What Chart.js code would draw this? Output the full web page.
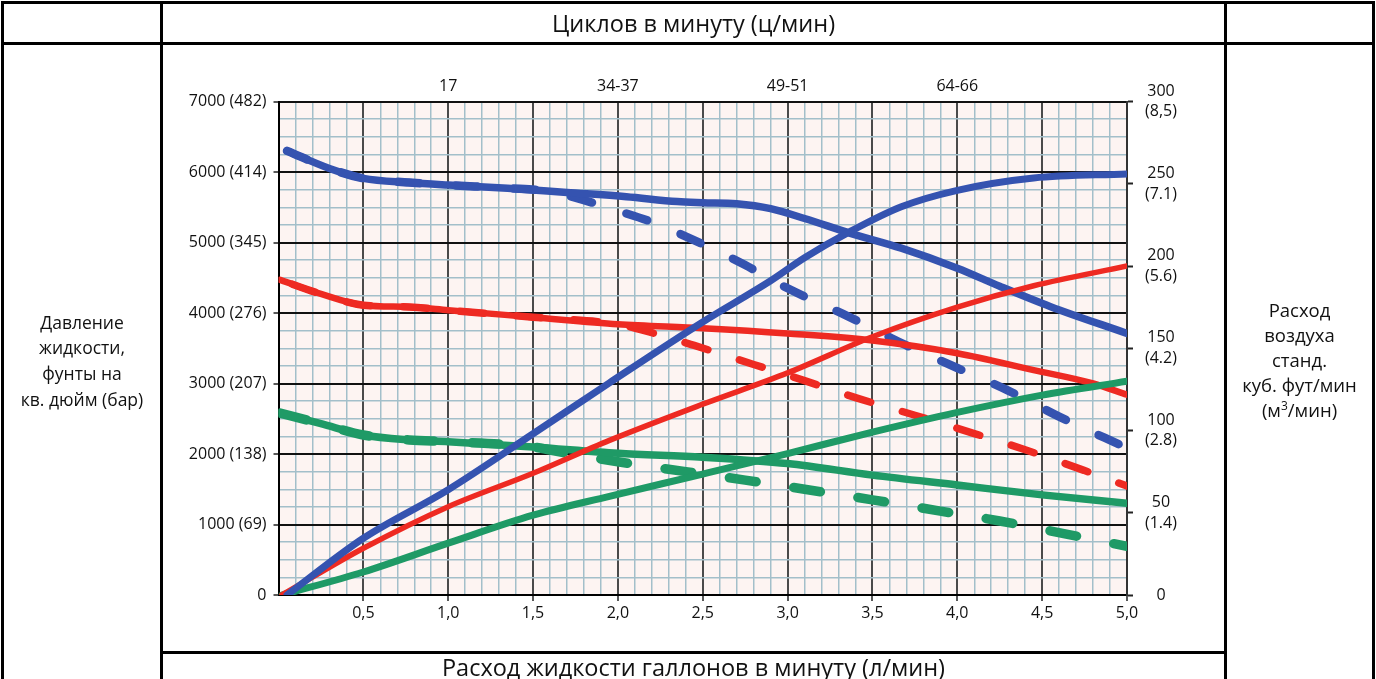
<!DOCTYPE html>
<html><head><meta charset="utf-8">
<script src="https://cdn.jsdelivr.net/npm/chart.js@4.4.1/dist/chart.umd.min.js"></script>
<style>
html,body{margin:0;padding:0;background:#fff;}
#wrap{position:relative;width:1376px;height:679px;overflow:hidden;font-family:'Open Sans',sans-serif;color:#111;}
#wrap canvas{position:absolute;left:0;top:0;}
.ln{position:absolute;background:#000;}
.txt{position:absolute;display:flex;align-items:center;justify-content:center;text-align:center;white-space:nowrap;}
sup{font-size:12px;line-height:0;vertical-align:7px;}
</style></head><body>
<div id="wrap">
 <canvas id="c" width="1376" height="679"></canvas>
 <div class="ln" style="left:1px;top:1px;width:1374px;height:3px"></div>
 <div class="ln" style="left:1px;top:42px;width:1374px;height:3px"></div>
 <div class="ln" style="left:160px;top:651px;width:1067px;height:3px"></div>
 <div class="ln" style="left:1px;top:1px;width:3px;height:678px"></div>
 <div class="ln" style="left:1372px;top:1px;width:3px;height:678px"></div>
 <div class="ln" style="left:160px;top:1px;width:3px;height:678px"></div>
 <div class="ln" style="left:1224px;top:1px;width:3px;height:678px"></div>
 <div class="txt" style="left:163px;top:4px;width:1061px;height:38px;font-size:23.5px;"><div>Циклов в минуту (ц/мин)</div></div>
 <div class="txt" style="left:163px;top:654px;width:1061px;height:25px;font-size:23.5px;"><div>Расход жидкости галлонов в минуту (л/мин)</div></div>
 <div class="txt" style="left:4px;top:300px;width:156px;height:122px;font-size:17.5px;"><div style="line-height:25.7px">Давление<br>жидкости,<br>фунты на<br>кв. дюйм (бар)</div></div>
 <div class="txt" style="left:1227px;top:290px;width:145px;height:138px;font-size:18.5px;"><div style="line-height:25px">Расход<br>воздуха<br>станд.<br>куб. фут/мин<br>(м<sup>3</sup>/мин)</div></div>
</div>
<script>
// ---- Data ----
// Fluid pressure, psi (left axis) vs fluid flow, gpm
const bluePsiX = [0.05, 0.3, 0.5, 0.77, 1.0, 1.35, 1.7, 2.05, 2.35, 2.5, 2.7, 2.9, 3.1, 3.37, 3.67, 4.0, 4.25, 4.55, 5.0];
const bluePsi  = [6300, 6050, 5910, 5850, 5815, 5770, 5710, 5650, 5580, 5565, 5550, 5480, 5340, 5130, 4920, 4635, 4380, 4090, 3710];
const bluePsiDashX = [0.05, 0.3, 0.5, 0.77, 1.0, 1.35, 1.6, 1.8, 2.0, 2.2, 2.5, 2.75, 3.0, 3.35, 3.7, 4.0, 4.3, 4.6, 5.0];
const bluePsiDash  = [6300, 6050, 5910, 5850, 5815, 5770, 5725, 5600, 5450, 5290, 4975, 4680, 4350, 3960, 3540, 3220, 2900, 2530, 2085];

const redPsiX = [0.01, 0.25, 0.5, 0.77, 1.0, 1.5, 2.0, 2.5, 3.0, 3.5, 4.0, 4.45, 4.8, 5.0];
const redPsi  = [4470, 4270, 4110, 4085, 4040, 3940, 3840, 3785, 3710, 3610, 3430, 3190, 3000, 2840];
const redPsiDashX = [0.01, 0.25, 0.5, 0.77, 1.0, 1.5, 2.0, 2.2, 2.45, 2.8, 3.1, 3.4, 3.75, 4.1, 4.4, 4.75, 5.0];
const redPsiDash  = [4470, 4270, 4110, 4085, 4040, 3940, 3840, 3720, 3540, 3270, 3040, 2800, 2550, 2290, 2060, 1765, 1545];

const greenPsiX = [0.01, 0.25, 0.5, 0.77, 1.0, 1.5, 2.0, 2.5, 3.0, 3.5, 4.0, 4.5, 5.0];
const greenPsi  = [2580, 2430, 2270, 2200, 2175, 2100, 2010, 1955, 1865, 1700, 1560, 1420, 1300];
const greenPsiDashX = [0.01, 0.25, 0.5, 0.77, 1.0, 1.5, 1.7, 2.0, 2.4, 2.75, 3.1, 3.5, 3.9, 4.25, 4.65, 5.0];
const greenPsiDash  = [2580, 2430, 2270, 2200, 2175, 2100, 2010, 1890, 1750, 1630, 1500, 1350, 1190, 1050, 860, 690];

// Air consumption, scfm (right axis) vs fluid flow, gpm
const blueAirX = [0.05, 0.5, 1.0, 1.5, 1.95, 2.5, 2.9, 3.1, 3.37, 3.67, 4.0, 4.45, 5.0];
const blueAir  = [0, 34.5, 64, 98, 129, 166, 191, 205, 221, 236, 246, 253.5, 256];
const redAirX = [0.02, 0.5, 1.0, 1.5, 1.95, 2.5, 3.0, 3.5, 4.0, 4.45, 5.0];
const redAir  = [0, 28.4, 53.7, 74, 94, 116, 135, 157, 175, 188, 200];
const greenAirX = [0.02, 0.5, 1.0, 1.5, 1.95, 2.5, 3.0, 3.5, 4.0, 4.5, 5.0];
const greenAir  = [0, 14, 31.5, 48.5, 60, 73.5, 86, 99, 111, 121.5, 130];

// Tick labels
const pressureTicks  = [0, 1000, 2000, 3000, 4000, 5000, 6000, 7000];
const pressureLabels = ['0', '1000 (69)', '2000 (138)', '3000 (207)', '4000 (276)', '5000 (345)', '6000 (414)', '7000 (482)'];
const airTicks  = [0, 50, 100, 150, 200, 250, 300];
const airLabels = ['0', ['50', '(1.4)'], ['100', '(2.8)'], ['150', '(4.2)'], ['200', '(5.6)'], ['250', '(7.1)'], ['300', '(8,5)']];
const flowTicks  = [0.5, 1.0, 1.5, 2.0, 2.5, 3.0, 3.5, 4.0, 4.5, 5.0];
const flowLabels = ['0,5', '1,0', '1,5', '2,0', '2,5', '3,0', '3,5', '4,0', '4,5', '5,0'];
const cycleTicks  = [1, 2, 3, 4];
const cycleLabels = ['17', '34-37', '49-51', '64-66'];

// ---- Styling ----
const BLUE = '#3553b0', RED = '#ee2a22', GREEN = '#1f9a66';
const MINOR = '#a3bfca';

function pts(xs, ys) { return xs.map((x, i) => ({x: x, y: ys[i]})); }
function line(label, xs, ys, color, width, axis, dash, offset) {
  return {
    label: label, data: pts(xs, ys), borderColor: color, backgroundColor: color,
    borderWidth: width, yAxisID: axis, pointRadius: 0, fill: false,
    cubicInterpolationMode: 'monotone', borderCapStyle: 'round', borderJoinStyle: 'round',
    borderDash: dash || [], borderDashOffset: offset || 0
  };
}

const paper = {
  id: 'paper',
  beforeDraw(chart) {
    const a = chart.chartArea, ctx = chart.ctx;
    ctx.save();
    ctx.fillStyle = '#fdf4f2';
    ctx.fillRect(a.left, a.top, a.right - a.left, a.bottom - a.top);
    ctx.restore();
  }
};

Chart.defaults.font.family = "'Open Sans', sans-serif";
Chart.defaults.font.size = 16;
Chart.defaults.color = '#111';

new Chart(document.getElementById('c'), {
  type: 'line',
  data: {
    datasets: [
      line('blue air', blueAirX, blueAir, BLUE, 7, 'y2'),
      line('red air', redAirX, redAir, RED, 5.5, 'y2'),
      line('green air', greenAirX, greenAir, GREEN, 7, 'y2'),
      line('blue psi', bluePsiX, bluePsi, BLUE, 7.5, 'y'),
      line('red psi', redPsiX, redPsi, RED, 6.5, 'y'),
      line('green psi', greenPsiX, greenPsi, GREEN, 7.5, 'y'),
      line('blue psi dashed', bluePsiDashX, bluePsiDash, BLUE, 8.5, 'y', [22, 36]),
      line('red psi dashed', redPsiDashX, redPsiDash, RED, 7.5, 'y', [24, 33], -13),
      line('green psi dashed', greenPsiDashX, greenPsiDash, GREEN, 9.5, 'y', [27, 38])
    ]
  },
  options: {
    responsive: false,
    animation: false,
    events: [],
    layout: {padding: 0},
    plugins: {legend: {display: false}, tooltip: {enabled: false}, title: {display: false}},
    scales: {
      x: {
        type: 'linear', position: 'bottom', min: 0, max: 5,
        afterFit(s) { s.height = 84; },
        ticks: {
          stepSize: 0.1, autoSkip: false, maxRotation: 0, padding: 3,
          callback(v) {
            const i = flowTicks.findIndex(t => Math.abs(t - v) < 1e-6);
            return i >= 0 ? flowLabels[i] : '';
          }
        },
        grid: {
          tickLength: 6,
          color(c) { const k = Math.round(c.tick.value * 10); return k === 0 ? '#000' : (k % 5 === 0 ? '#4a4a4a' : MINOR); },
          lineWidth(c) { const k = Math.round(c.tick.value * 10); return k % 5 === 0 ? 2 : 1.5; },
          tickColor(c) { const k = Math.round(c.tick.value * 10); return k % 5 === 0 && k > 0 ? '#222' : 'rgba(0,0,0,0)'; },
          tickWidth: 1.5
        },
        border: {display: true, color: '#000', width: 2}
      },
      x2: {
        type: 'linear', position: 'top', min: 0, max: 5,
        afterFit(s) { s.height = 101.5; },
        ticks: {
          stepSize: 1, autoSkip: false, maxRotation: 0, padding: 5,
          callback(v) { const i = cycleTicks.indexOf(v); return i >= 0 ? cycleLabels[i] : ''; }
        },
        grid: {display: false, drawTicks: false},
        border: {display: false}
      },
      y: {
        type: 'linear', position: 'left', min: 0, max: 7000,
        afterFit(s) { s.width = 278.5; },
        ticks: {
          stepSize: 250, autoSkip: false, padding: 7,
          callback(v) { const i = pressureTicks.indexOf(v); return i >= 0 ? pressureLabels[i] : ''; }
        },
        grid: {
          tickLength: 5,
          color(c) { return c.tick.value % 1000 === 0 ? '#111' : MINOR; },
          lineWidth(c) { return c.tick.value % 1000 === 0 ? 2 : 1.5; },
          tickColor(c) { return c.tick.value % 1000 === 0 ? '#222' : 'rgba(0,0,0,0)'; },
          tickWidth: 1.5
        },
        border: {display: true, color: '#000', width: 2}
      },
      y2: {
        type: 'linear', position: 'right', min: 0, max: 300,
        afterFit(s) { s.width = 249; },
        ticks: {
          stepSize: 50, autoSkip: false, padding: 12, crossAlign: 'center',
          font: {size: 16, lineHeight: 1.3},
          callback(v) { const i = airTicks.indexOf(v); return i >= 0 ? airLabels[i] : ''; }
        },
        grid: {drawOnChartArea: false, tickLength: 6, tickColor: '#222', tickWidth: 2},
        border: {display: true, color: '#333', width: 2}
      }
    }
  },
  plugins: [paper]
});
</script>
</body></html>
